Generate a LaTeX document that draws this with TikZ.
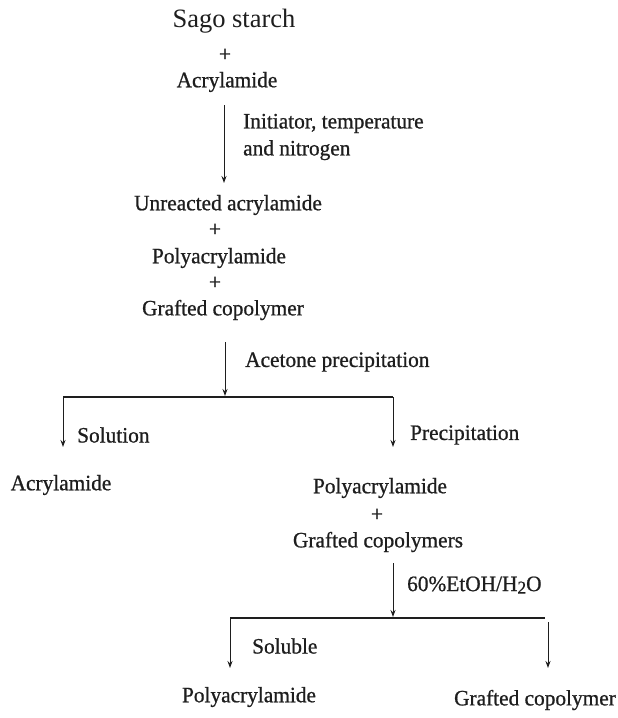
\documentclass[tikz,border=0pt]{standalone}
\usepackage{fontspec}
\setmainfont{Liberation Serif}
\newfontfamily\bodyfont{Liberation Serif}[FakeStretch=0.97,FakeBold=0.8]
\usetikzlibrary{arrows.meta}
\definecolor{ink}{HTML}{1E1E1E}
\tikzset{
  txt/.style={inner sep=0pt, text=ink, font=\bodyfont\fontsize{22}{27}\selectfont},
  big/.style={inner sep=0pt, text=ink, font=\fontsize{26.5}{30}\selectfont},
  arr/.style={draw=ink, line width=1pt, -{Stealth[length=7pt,width=5pt]}},
  bar/.style={draw=ink, line width=2pt}
}
\begin{document}
\begin{tikzpicture}[x=1pt,y=-1pt]
\useasboundingbox (0,0) rectangle (618,718);
% top block
\node[big] (sago) at (234,21) {Sago starch};
\node[txt] (p1) at (225,55) {+};
\node[txt] (acr1) at (227,82) {Acrylamide};
\node[txt, anchor=west, align=left] (init) at (243,137) {Initiator, temperature\\and nitrogen};
\node[txt] (unr) at (228,205) {Unreacted acrylamide};
\node[txt] (p2) at (215,230) {+};
\node[txt] (poly1) at (219,258) {Polyacrylamide};
\node[txt] (p3) at (215,283) {+};
\node[txt] (graf1) at (223,310) {Grafted copolymer};
\node[txt, anchor=west] (acet) at (245,362) {Acetone precipitation};
% first split
\coordinate (a1s) at (224,105);
\coordinate (a1e) at (224,183);
\coordinate (a2s) at (225,342);
\coordinate (a2e) at (225,396);
\coordinate (hL) at (63,397);
\coordinate (hR) at (393,397);
\coordinate (hLe) at (63,447);
\coordinate (hRe) at (393,447);
\node[txt, anchor=west] (sol) at (77,435) {Solution};
\node[txt, anchor=west] (prec) at (410,435) {Precipitation};
\node[txt] (acr2) at (61,485) {Acrylamide};
\node[txt] (poly2) at (380,488) {Polyacrylamide};
\node[txt] (p4) at (377,515) {+};
\node[txt] (graf2) at (378,542) {Grafted copolymers};
\node[txt, anchor=west] (etoh) at (407,585) {60\%EtOH/H\raisebox{-2.5pt}{\fontsize{18}{18}\selectfont 2}O};
% second split
\coordinate (a3s) at (393,563);
\coordinate (a3e) at (393,617);
\coordinate (gL) at (230,618);
\coordinate (gR) at (545,618);
\coordinate (gLe) at (230,668);
\coordinate (gRs) at (548,622);
\coordinate (gRe) at (548,668);
\node[txt, anchor=west] (solu) at (252,646) {Soluble};
\node[txt] (poly3) at (249,697) {Polyacrylamide};
\node[txt] (graf3) at (535,700) {Grafted copolymer};
% connectors
\draw[arr] (a1s) -- (a1e);
\draw[arr] (a2s) -- (a2e);
\draw[bar] (hL) -- (hR);
\draw[arr] (hL) -- (hLe);
\draw[arr] (hR) -- (hRe);
\draw[arr] (a3s) -- (a3e);
\draw[bar] (gL) -- (gR);
\draw[arr] (gL) -- (gLe);
\draw[arr] (gRs) -- (gRe);
\end{tikzpicture}
\end{document}
